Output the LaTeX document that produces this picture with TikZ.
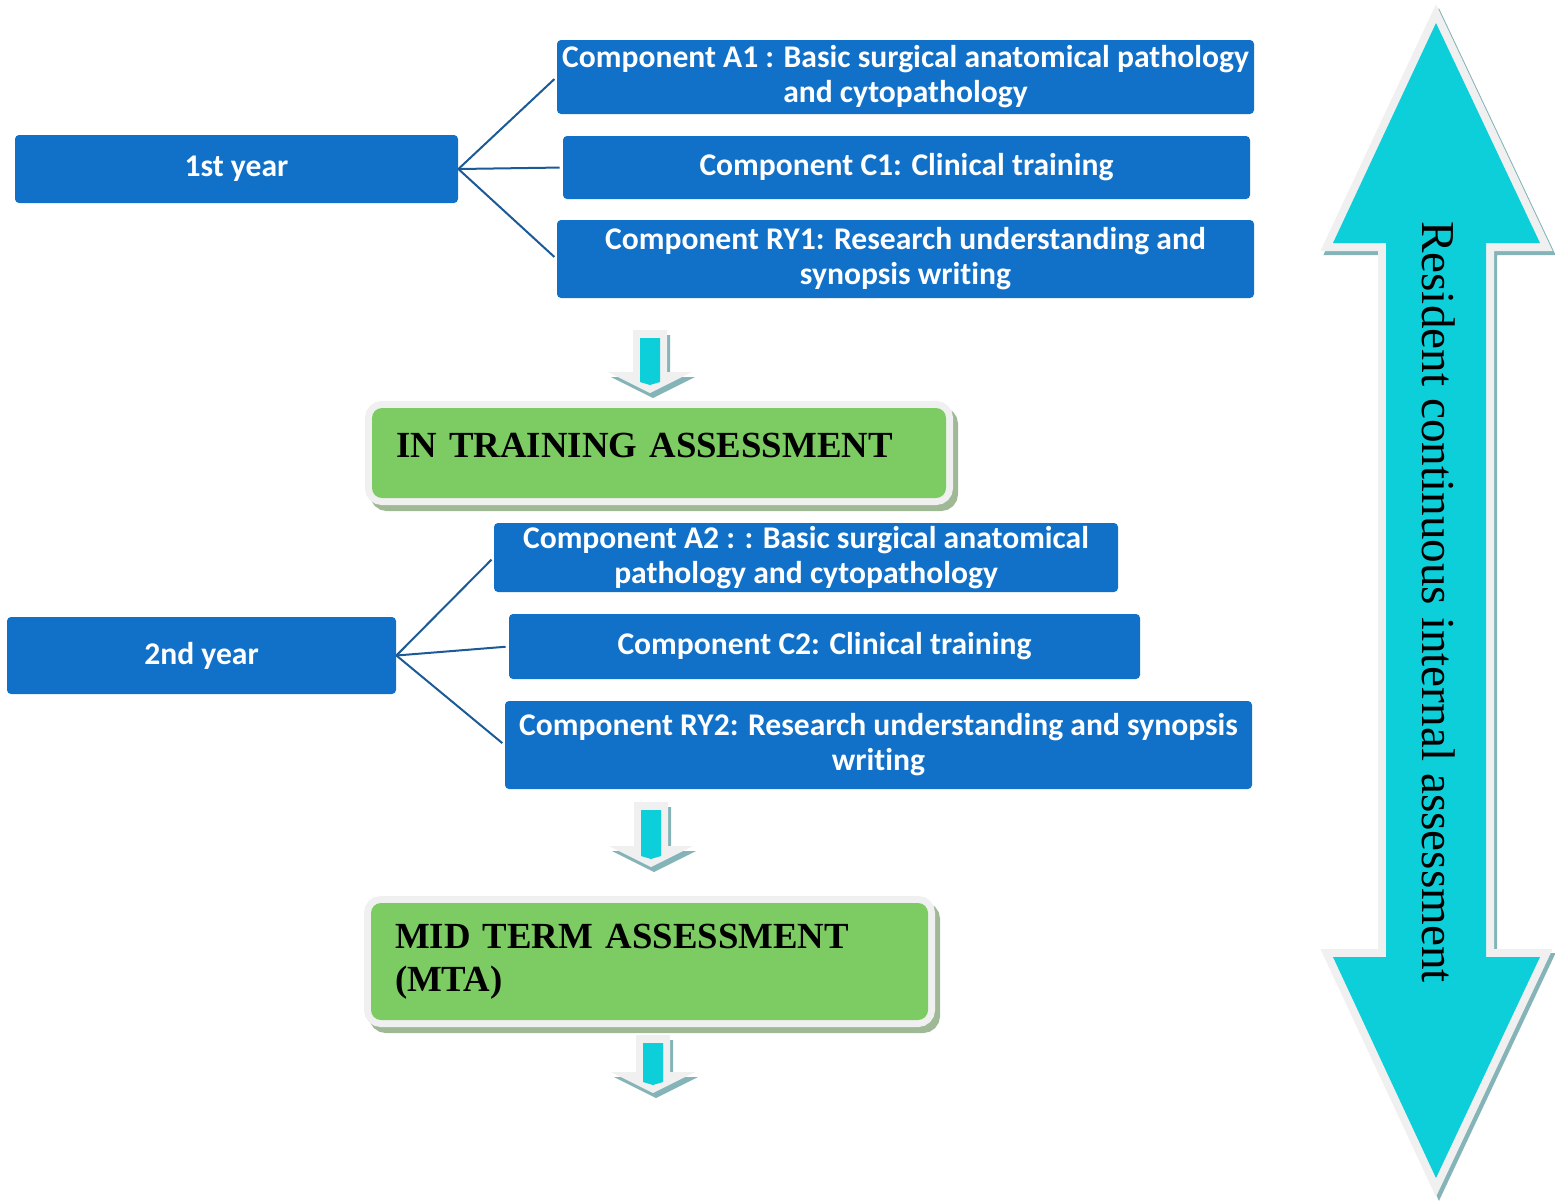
\documentclass[tikz,border=0pt]{standalone}
\usepackage{fontspec}
\setmainfont{Liberation Serif}
\newfontfamily\calib[Ligatures={NoCommon}]{Carlito}
\definecolor{boxblue}{RGB}{17,112,200}
\definecolor{assessgreen}{RGB}{125,203,99}
\definecolor{greenshadow}{RGB}{159,184,150}
\definecolor{arrowcyan}{RGB}{13,207,217}
\definecolor{arrowshadow}{RGB}{132,180,184}
\definecolor{edgegray}{RGB}{240,240,240}
\definecolor{linkblue}{RGB}{27,90,150}
\tikzset{
  compbox/.style={
    fill=boxblue,
    rounded corners=2pt,
    text=white,
    inner sep=0pt,
    align=center,
    font=\calib\bfseries\fontsize{15.8}{17.5}\selectfont
  },
  assessbox/.style={
    fill=assessgreen,
    rounded corners=5pt,
    inner xsep=12pt,
    inner ysep=0pt,
    align=left,
    font=\bfseries\fontsize{18.4}{21.5}\selectfont,
    preaction={fill=greenshadow,draw=greenshadow,line width=7pt,
      transform canvas={xshift=2.5pt,yshift=-3pt}},
    preaction={draw=edgegray,line width=7pt}
  },
  link/.style={
    draw=linkblue,
    line width=1pt,
    shorten >=1.5pt
  },
}

\begin{document}
\begin{tikzpicture}[x=0.5pt,y=-0.5pt]
  \useasboundingbox (0,0) rectangle (1555,1201);
  % resident continuous assessment arrow
  \path[fill=arrowcyan,
    preaction={fill=arrowshadow,draw=arrowshadow,line width=8pt,
      transform canvas={xshift=1.5pt,yshift=-2pt}},
    preaction={draw=edgegray,line width=8pt}]
    (1436,23) -- (1540,243) -- (1486,243) -- (1486,957) -- (1540,957)
    -- (1436,1178) -- (1333,957) -- (1386,957) -- (1386,243)
    -- (1333,243) -- cycle;
  \node[rotate=-90,anchor=base,font=\fontsize{23.6}{28}\selectfont]
    (resident) at (1422,602) {Resident continuous internal assessment};
  % small down arrows
  \foreach \ax/\atop/\ah in {650/330/42, 651/802/44, 653/1035/37}{
    \begin{scope}[shift={(\ax,\atop)}]
      \fill[arrowshadow] (-14,5) -- (20,5) -- (20,\ah+5) -- (45,\ah+5)
        -- (3,\ah+26) -- (-39,\ah+5) -- (-14,\ah+5) -- cycle;
      \fill[edgegray] (-17,0) -- (17,0) -- (17,\ah) -- (42,\ah)
        -- (0,\ah+21) -- (-42,\ah) -- (-17,\ah) -- cycle;
      \fill[arrowcyan] (-10,8) -- (10,8) -- (10,\ah+10) -- (0,\ah+13)
        -- (-10,\ah+10) -- cycle;
    \end{scope}
  }
  % first year
  \node[compbox,minimum width=221.5pt,minimum height=34pt] (y1) at (236.5,169) {1st year};
  \node[compbox,minimum width=348.5pt,minimum height=37pt] (a1) at (905.5,77)
    {Component A1 : Basic surgical anatomical pathology\\and cytopathology};
  \node[compbox,minimum width=343.5pt,minimum height=31.5pt] (c1) at (906.5,167.5)
    {Component C1: Clinical training};
  \node[compbox,minimum width=348.5pt,minimum height=39pt] (ry1) at (905.5,259)
    {Component RY1: Research understanding and\\synopsis writing};
  \draw[link] (y1.east) -- (a1.west);
  \draw[link] (y1.east) -- (c1.west);
  \draw[link] (y1.east) -- (ry1.west);
  \node[assessbox,minimum width=287pt,minimum height=45pt,text width=263pt,
    text depth=8pt] (ita) at (659,453) {IN TRAINING ASSESSMENT};
  % second year
  \node[compbox,minimum width=194.5pt,minimum height=38.5pt] (y2) at (201.5,655.5) {2nd year};
  \node[compbox,minimum width=312pt,minimum height=34.5pt] (a2) at (806,557.5)
    {Component A2 : : Basic surgical anatomical\\pathology and cytopathology};
  \node[compbox,minimum width=315.5pt,minimum height=32.5pt] (c2) at (824.5,646.5)
    {Component C2: Clinical training};
  \node[compbox,minimum width=373.5pt,minimum height=44pt] (ry2) at (878.5,745)
    {Component RY2: Research understanding and synopsis\\writing};
  \draw[link] (y2.east) -- (a2.west);
  \draw[link] (y2.east) -- (c2.west);
  \draw[link] (y2.east) -- (ry2.west);
  \node[assessbox,minimum width=278.5pt,minimum height=58.5pt,text width=254.5pt]
    (mta) at (649.5,961.5) {MID TERM ASSESSMENT\\(MTA)};
\end{tikzpicture}
\end{document}
